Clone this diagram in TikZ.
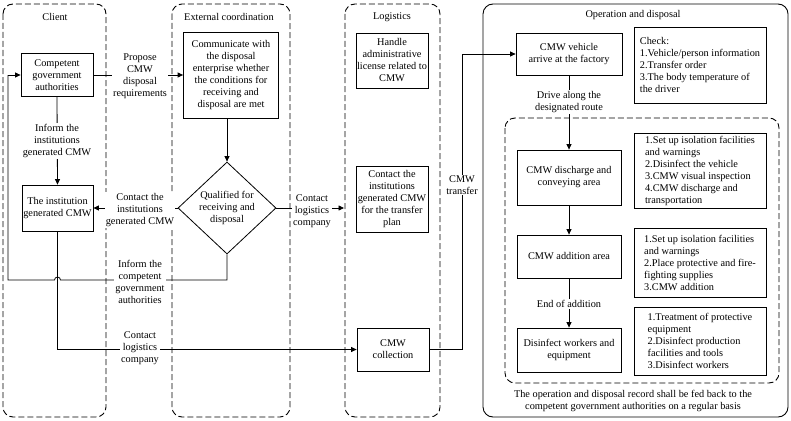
\documentclass[tikz,border=0pt]{standalone}
\usepackage{fontspec}
\setmainfont{Liberation Serif}
\usetikzlibrary{arrows.meta,shapes.geometric,calc}
\begin{document}
\begin{tikzpicture}[x=1pt,y=-1pt,
  font=\fontsize{10.3}{12}\selectfont,
  lane/.style={draw, dash pattern=on 6pt off 3pt, rounded corners=10pt, line width=0.9pt},
  oplane/.style={draw, rounded corners=10pt, line width=0.9pt},
  box/.style={draw, line width=0.8pt, align=center, inner sep=1pt, minimum width=#1},
  tbox/.style={draw, line width=0.8pt, align=left, inner sep=1pt, minimum width=132pt, minimum height=#1},
  lbl/.style={fill=white, align=center, inner sep=1pt},
  conn/.style={line width=0.8pt},
  arr/.style={conn, -{Triangle[length=5.5pt,width=5pt]}}
]
\useasboundingbox (0,0) rectangle (791,420);
% lanes
\draw[lane] (3,4) rectangle (106,417);
\draw[lane] (172,4) rectangle (290,417);
\draw[lane] (345,4) rectangle (440,417);
\draw[oplane] (483,4) rectangle (788,417);
\draw[lane] (505,118) rectangle (779,383);
\node (tclient) at (55,17) {Client};
\node (text) at (229,17) {External coordination};
\node (tlog) at (392,17) {Logistics};
\node (top) at (633,15) {Operation and disposal};
% client
\node[box=72pt, minimum height=43pt] (gov) at (57,75) {Competent\\government\\authorities};
\node[box=71pt, minimum height=46pt] (inst) at (57.5,208) {The institution\\generated CMW};
% external
\node[box=95pt, minimum height=86pt] (comm) at (231,75) {Communicate with\\the disposal\\enterprise whether\\the conditions for\\receiving and\\disposal are met};
\node[draw, diamond, line width=0.8pt, minimum width=98pt, minimum height=92pt, inner sep=0pt, align=center] (qual) at (227,208) {Qualified for\\receiving and\\disposal};
% logistics
\node[box=72pt, minimum height=55pt] (handle) at (392,60.5) {Handle\\administrative\\license related to\\CMW};
\node[box=72pt, minimum height=66pt] (contact) at (392,199) {Contact the\\institutions\\generated CMW\\for the transfer\\plan};
\node[box=72pt, minimum height=43pt] (collect) at (393,349.5) {CMW\\collection};
% operation
\node[box=106pt, minimum height=42pt] (vehicle) at (569,54) {CMW vehicle\\arrive at the factory};
\node[tbox=76pt] (check) at (700,65) {Check:\\1.Vehicle/person information\\2.Transfer order\\3.The body temperature of\\the driver};
\node[box=104pt, minimum height=55pt] (discharge) at (569,177.5) {CMW discharge and\\conveying area};
\node[tbox=75pt] (s1) at (700,170.5) {1.Set up isolation facilities\\and warnings\\2.Disinfect the vehicle\\3.CMW visual inspection\\4.CMW discharge and\\transportation};
\node[box=104pt, minimum height=43pt] (addition) at (569,256.5) {CMW addition area};
\node[tbox=69pt] (s2) at (700,262.5) {1.Set up isolation facilities\\and warnings\\2.Place protective and fire-\\fighting supplies\\3.CMW addition};
\node[box=104pt, minimum height=44pt] (disinfect) at (569,350) {Disinfect workers and\\equipment};
\node[tbox=68pt] (s3) at (700,341) {1.Treatment of protective\\equipment\\2.Disinfect production\\facilities and tools\\3.Disinfect workers};
\node[align=center] (record) at (633,401) {The operation and disposal record shall be fed back to the\\competent government authorities on a regular basis};
% connectors
\coordinate (logedge) at (344,208);
\draw[arr] (gov.east) -- (comm.west);
\draw[arr] (gov.south) -- (inst.north);
\draw[arr] (qual.west) -- (inst.east);
\draw[arr] (qual.east) -- (logedge);
\draw[arr] (qual.north |- comm.south) -- (qual.north);
\draw[conn] (qual.south) -- (227,280) -- (60.5,280) arc[start angle=0,end angle=-180,radius=3] -- (8,280) -- (8,75);
\draw[arr] (8,75) -- (gov.west);
\draw[arr] (inst.south) -- (57.5,349.5) -- (collect.west);
\draw[arr] (collect.east) -- (462,349.5) -- (462,54) -- (vehicle.west);
\draw[arr] (vehicle.south) -- (discharge.north);
\draw[arr] (discharge.south) -- (addition.north);
\draw[arr] (addition.south) -- (disinfect.north);
% labels
\node[lbl] (l1) at (140,76) {Propose\\CMW\\disposal\\requirements};
\node[lbl] (l2) at (57,141) {Inform the\\institutions\\generated CMW};
\node[lbl] (l3) at (140,210) {Contact the\\institutions\\generated CMW};
\node[lbl] (l4) at (140,282) {Inform the\\competent\\government\\authorities};
\node[lbl] (l5) at (140,348) {Contact\\logistics\\company};
\node[lbl] (l6) at (312,211) {Contact\\logistics\\company};
\node[lbl] (l7) at (462,185) {CMW\\transfer};
\node[lbl] (l8) at (569,102) {Drive along the\\designated route};
\node[lbl] (l9) at (569,304) {End of addition};
\end{tikzpicture}
\end{document}
